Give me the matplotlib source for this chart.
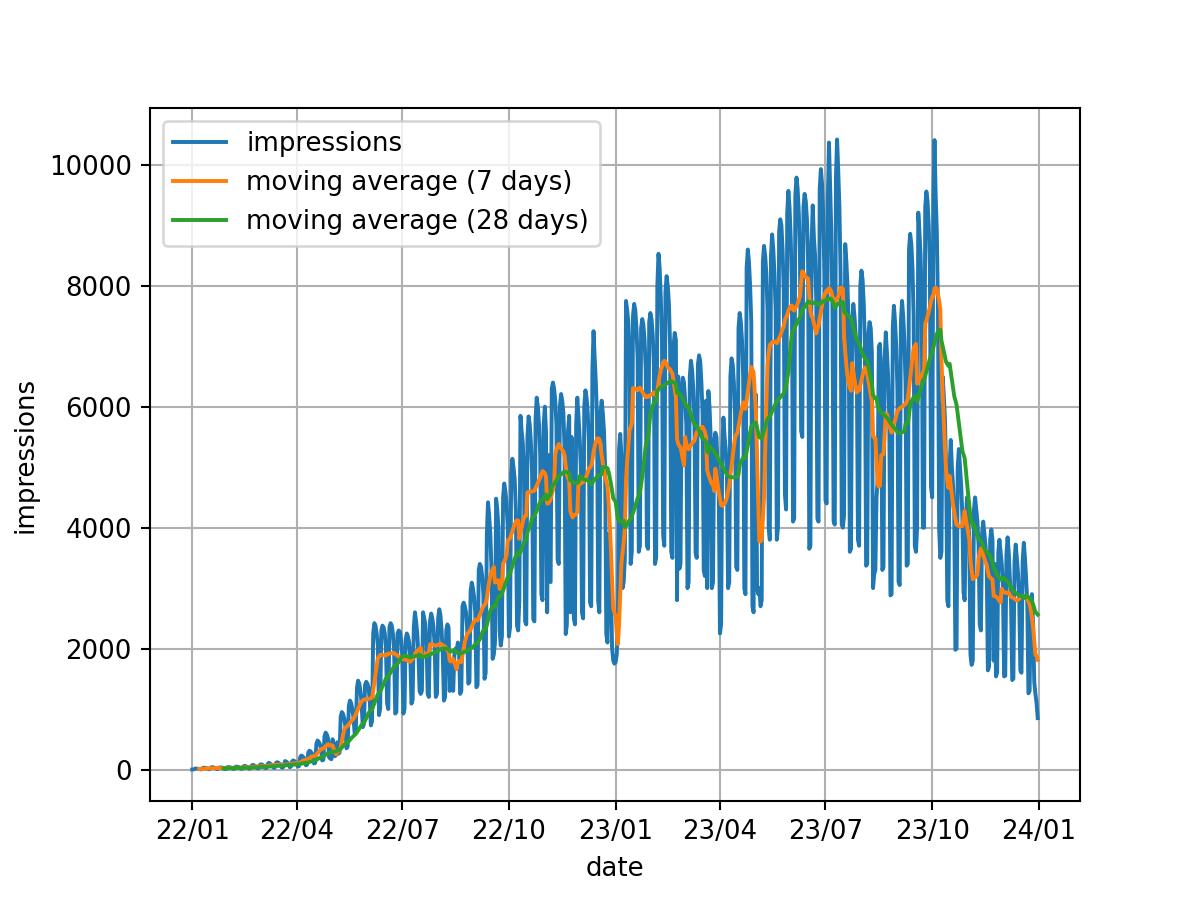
import numpy as np
import pandas as pd
import matplotlib
matplotlib.use('Agg')
import matplotlib.pyplot as plt
import matplotlib.dates as mdates

start_date = '2022-01-01'   # first day (a Saturday), one value per day

# daily impressions, one row per week (Sat, Sun, Mon, Tue, Wed, Thu, Fri)
impressions_2022 = [
    [0, 2, 10, 18, 15, 12, 8],
    [3, 4, 25, 30, 28, 22, 18],
    [5, 6, 30, 40, 35, 30, 22],
    [8, 7, 28, 35, 32, 30, 20],
    [6, 8, 35, 42, 38, 33, 25],
    [10, 9, 40, 48, 45, 40, 30],
    [12, 10, 50, 60, 55, 48, 35],
    [14, 15, 60, 75, 70, 60, 45],
    [20, 18, 70, 85, 80, 72, 55],
    [22, 25, 90, 110, 100, 85, 70],
    [30, 28, 100, 120, 115, 100, 80],
    [35, 30, 60, 140, 130, 115, 90],
    [40, 45, 130, 150, 140, 125, 100],
    [50, 55, 200, 230, 220, 200, 160],
    [70, 80, 280, 310, 300, 270, 220],
    [100, 110, 420, 480, 460, 420, 350],
    [150, 160, 550, 610, 580, 520, 200],
    [180, 170, 500, 250, 220, 240, 450],
    [260, 280, 880, 950, 920, 850, 720],
    [350, 380, 1050, 1140, 1100, 1000, 850],
    [600, 650, 1350, 1470, 1420, 1300, 1100],
    [700, 750, 1400, 1450, 1420, 1350, 1150],
    [730, 800, 2250, 2420, 2380, 2250, 2050],
    [900, 1000, 2300, 2380, 2350, 2250, 2000],
    [1090, 1000, 2350, 2420, 2380, 2250, 2000],
    [925, 950, 2250, 2300, 2280, 2150, 1900],
    [925, 1000, 2150, 2250, 2200, 2100, 1850],
    [1090, 1150, 2350, 2600, 2450, 2250, 1900],
    [1300, 1250, 1300, 2600, 2500, 2400, 2100],
    [1250, 1200, 2450, 2580, 2500, 2350, 2050],
    [1200, 1250, 2500, 2650, 2550, 2300, 1900],
    [1140, 1200, 2300, 2400, 2350, 1300, 1800],
    [1360, 1300, 1900, 2000, 1950, 2100, 1950],
    [1250, 1300, 2700, 2760, 2700, 2600, 2350],
    [1420, 1450, 2950, 3090, 3000, 2850, 2600],
    [1360, 1400, 3300, 3400, 3350, 3200, 2900],
    [1500, 1600, 3900, 4420, 4200, 3900, 3300],
    [1830, 1900, 2100, 4480, 4300, 4000, 2300],
    [2050, 2200, 4500, 4730, 4600, 4400, 4000],
    [2200, 2350, 4900, 5140, 5000, 4800, 4300],
    [2380, 2300, 2800, 5850, 5600, 5400, 4900],
    [2450, 2400, 5500, 5840, 5700, 5400, 4900],
    [2490, 2450, 5800, 6150, 6000, 5700, 5200],
    [2900, 2800, 5700, 6000, 5600, 2600, 5200],
    [3125, 3100, 6300, 6400, 6300, 6100, 5700],
    [3480, 3400, 6000, 6210, 6100, 5900, 5300],
    [2240, 2400, 5600, 5850, 2600, 5500, 5000],
    [2500, 2400, 5700, 6150, 5850, 5500, 5000],
    [2600, 2500, 6000, 6270, 6150, 5900, 5400],
    [2760, 2700, 6600, 7250, 6800, 6400, 5800],
    [2790, 2600, 5900, 6100, 5900, 5600, 5000],
    [2240, 2100, 3900, 3600, 3000, 2000, 1800],
]

impressions_2023 = [
    [1750, 1770, 1900, 2300, 5300, 5550, 5200],
    [3000, 3100, 3500, 7750, 7600, 7400, 6900],
    [3400, 3600, 7500, 7700, 7600, 7300, 6800],
    [3600, 3700, 7300, 7450, 7350, 7100, 6600],
    [3700, 3650, 7400, 7550, 7450, 7200, 6700],
    [3400, 3500, 8000, 8530, 8300, 7800, 7100],
    [3880, 3700, 7900, 8160, 8000, 7700, 7000],
    [3600, 3500, 7000, 7220, 7100, 2800, 6500],
    [3320, 3400, 6300, 6480, 6400, 6100, 5700],
    [3000, 3100, 6500, 6760, 6600, 6300, 5800],
    [3580, 3500, 6700, 6850, 6750, 6400, 5900],
    [3300, 3200, 6100, 3000, 6260, 6000, 5500],
    [3000, 3100, 5400, 5570, 5500, 5000, 4500],
    [2250, 2400, 5300, 5820, 5500, 5300, 4900],
    [3000, 3100, 6500, 6800, 6700, 6400, 5900],
    [3350, 3300, 7300, 7550, 7400, 7100, 6500],
    [3000, 2900, 8300, 8600, 8400, 8000, 7400],
    [2700, 2600, 6000, 6200, 3000, 2900, 3000],
    [2700, 2800, 8400, 8660, 8500, 8200, 7600],
    [4000, 3800, 8500, 8850, 8600, 8200, 7600],
    [3800, 4000, 8900, 9100, 9000, 8600, 7900],
    [4550, 4300, 9200, 9570, 9300, 8800, 8000],
    [4100, 4150, 9500, 9790, 9600, 9200, 8500],
    [5600, 5500, 9300, 9520, 9400, 9100, 8400],
    [3650, 3700, 8700, 9330, 8800, 8500, 7800],
    [4150, 4100, 9600, 9930, 9700, 9200, 8200],
    [4450, 4400, 9400, 10370, 9600, 8900, 7600],
    [4100, 4050, 9800, 10420, 9900, 9300, 8200],
    [4050, 4000, 4200, 8690, 8400, 8000, 7300],
    [3600, 3650, 7400, 7700, 7500, 7200, 6600],
    [3800, 3700, 8000, 8250, 8100, 7700, 7000],
    [3370, 3400, 7200, 7400, 7300, 6900, 3000],
    [3230, 3300, 4500, 4800, 7000, 7040, 6500],
    [3300, 3350, 6800, 7230, 6900, 6500, 5800],
    [2880, 2900, 7300, 7670, 7400, 7000, 6300],
    [3100, 3050, 7400, 7750, 7500, 7100, 6400],
    [3370, 3400, 8600, 8860, 8700, 8300, 7500],
    [3700, 3600, 4000, 9210, 8900, 8500, 7700],
    [4000, 4000, 9300, 9560, 9400, 9000, 8300],
    [4670, 4500, 9400, 10410, 9500, 8900, 7600],
    [3970, 3500, 3600, 6500, 6200, 5800, 5000],
    [2800, 2700, 5000, 5450, 5000, 4700, 4200],
    [1980, 2000, 5000, 5300, 5000, 4700, 4200],
    [2930, 2800, 4100, 4500, 4200, 3800, 1900],
    [1730, 1800, 4300, 4500, 4300, 4100, 3700],
    [2400, 2300, 3900, 4100, 3900, 3700, 3400],
    [1640, 1700, 3800, 3970, 3800, 1800, 3400],
    [1540, 1600, 3600, 3800, 3600, 3400, 3000],
    [1540, 1550, 3550, 3840, 3600, 3150, 2750],
    [1480, 1500, 3450, 3720, 3500, 3250, 2850],
    [1640, 1600, 3450, 3750, 3500, 3150, 2750],
    [1260, 1300, 2750, 2900, 2400, 1450, 1250],
    [1100, 850],
]

values = [v for week in impressions_2022 + impressions_2023 for v in week]
dates = pd.date_range(start_date, periods=len(values), freq='D')
df = pd.DataFrame({'impressions': values}, index=dates)

ma7 = df['impressions'].rolling(7).mean()
ma28 = df['impressions'].rolling(28).mean()

fig, ax = plt.subplots(figsize=(6.4, 4.8), dpi=187.5)

ax.plot(df.index, df['impressions'], label='impressions')
ax.plot(df.index, ma7, label='moving average (7 days)')
ax.plot(df.index, ma28, label='moving average (28 days)')

ax.xaxis.set_major_locator(mdates.MonthLocator(bymonth=[1, 4, 7, 10]))
ax.xaxis.set_major_formatter(mdates.DateFormatter('%y/%m'))

ax.set_xlabel('date')
ax.set_ylabel('impressions')
ax.grid(True)
ax.legend(loc='upper left')

plt.savefig('out.png')
